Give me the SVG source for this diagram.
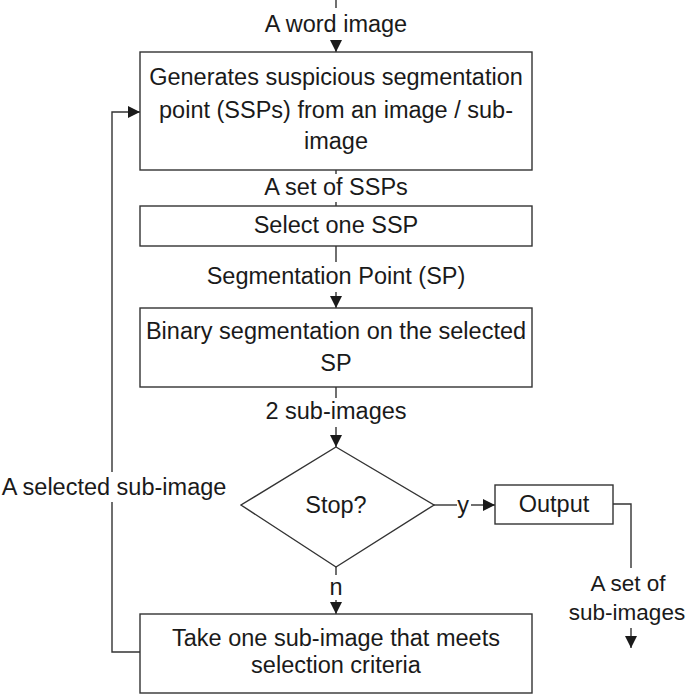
<svg xmlns="http://www.w3.org/2000/svg" width="690" height="695" viewBox="0 0 690 695">
<style>
.box{fill:#fff;stroke:#333;stroke-width:1.4}
.ln{fill:none;stroke:#333;stroke-width:1.4}
text{font-family:"Liberation Sans",Arial,sans-serif;font-size:23.5px;fill:#1a1a1a;text-anchor:middle;dominant-baseline:central}
.sm{font-size:22.5px}
</style>
<defs>
<marker id="ah" markerWidth="12" markerHeight="12" viewBox="0 0 12 12" refX="12" refY="6" orient="auto" markerUnits="userSpaceOnUse">
<path d="M0,0 L12,6 L0,12 Z" fill="#1a1a1a"/>
</marker>
</defs>
<rect width="690" height="695" fill="#fff"/>
<g id="connectors">
<line class="ln" x1="336" y1="0" x2="336" y2="8"/>
<line class="ln" x1="336" y1="40" x2="336" y2="52" marker-end="url(#ah)"/>
<line class="ln" x1="336" y1="170" x2="336" y2="174"/>
<line class="ln" x1="336" y1="202" x2="336" y2="206"/>
<line class="ln" x1="336" y1="246" x2="336" y2="262"/>
<line class="ln" x1="336" y1="292" x2="336" y2="308" marker-end="url(#ah)"/>
<line class="ln" x1="336" y1="387" x2="336" y2="398"/>
<line class="ln" x1="336" y1="427" x2="336" y2="447" marker-end="url(#ah)"/>
<line class="ln" x1="434" y1="505" x2="457" y2="505"/>
<line class="ln" x1="471" y1="505" x2="495" y2="505" marker-end="url(#ah)"/>
<polyline class="ln" points="613,504 631,504 631,568"/>
<line class="ln" x1="631" y1="628" x2="631" y2="648" marker-end="url(#ah)"/>
<line class="ln" x1="336" y1="567" x2="336" y2="575"/>
<line class="ln" x1="336" y1="600" x2="336" y2="614" marker-end="url(#ah)"/>
<polyline class="ln" points="140,652 112,652 112,502"/>
<polyline class="ln" points="112,472 112,112 140,112" marker-end="url(#ah)"/>
<text x="336" y="24">A word image</text>
<text x="336" y="187">A set of SSPs</text>
<text x="336" y="276">Segmentation Point (SP)</text>
<text x="336" y="411">2 sub-images</text>
<text x="463" y="505">y</text>
<text x="336" y="587">n</text>
<text class="sm" x="628" y="583">A set of</text>
<text class="sm" x="627" y="612">sub-images</text>
<text x="114" y="487">A selected sub-image</text>
</g>
<g id="n1">
<rect class="box" x="140" y="52" width="392" height="118"/>
<text x="336" y="77">Generates suspicious segmentation</text>
<text x="336" y="110">point (SSPs) from an image / sub-</text>
<text x="336" y="141">image</text>
</g>
<g id="n2">
<rect class="box" x="140" y="206" width="392" height="40"/>
<text x="336" y="225">Select one SSP</text>
</g>
<g id="n3">
<rect class="box" x="140" y="308" width="392" height="79"/>
<text x="336" y="331">Binary segmentation on the selected</text>
<text x="336" y="363">SP</text>
</g>
<g id="n4">
<polygon class="box" points="336,447 434,505 336,567 241,505"/>
<text x="336" y="505">Stop?</text>
</g>
<g id="n5">
<rect class="box" x="495" y="485" width="118" height="39"/>
<text x="554" y="504">Output</text>
</g>
<g id="n6">
<rect class="box" x="140" y="614" width="392" height="79"/>
<text x="336" y="638">Take one sub-image that meets</text>
<text x="336" y="665">selection criteria</text>
</g>
</svg>
